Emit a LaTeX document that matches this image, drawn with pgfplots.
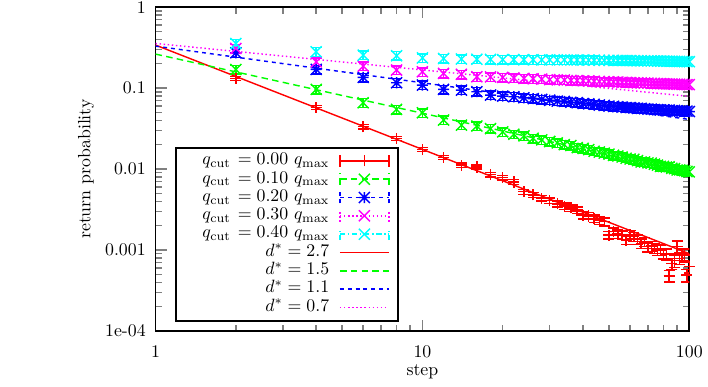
\documentclass[border=0pt]{standalone}
\usepackage{pgfplots}
\pgfplotsset{compat=1.18}
\definecolor{gpred}{rgb}{1,0,0}
\definecolor{gpgreen}{rgb}{0,1,0}
\definecolor{gpblue}{rgb}{0,0,1}
\definecolor{gpmagenta}{rgb}{1,0,1}
\definecolor{gpcyan}{rgb}{0,1,1}
\pgfdeclareplotmark{gpplus}{%
  \pgfpathmoveto{\pgfqpoint{-\pgfplotmarksize}{0pt}}%
  \pgfpathlineto{\pgfqpoint{\pgfplotmarksize}{0pt}}%
  \pgfpathmoveto{\pgfqpoint{0pt}{-\pgfplotmarksize}}%
  \pgfpathlineto{\pgfqpoint{0pt}{\pgfplotmarksize}}%
  \pgfusepathqstroke}
\pgfdeclareplotmark{gpx}{%
  \pgfpathmoveto{\pgfqpoint{-\pgfplotmarksize}{-\pgfplotmarksize}}%
  \pgfpathlineto{\pgfqpoint{\pgfplotmarksize}{\pgfplotmarksize}}%
  \pgfpathmoveto{\pgfqpoint{-\pgfplotmarksize}{\pgfplotmarksize}}%
  \pgfpathlineto{\pgfqpoint{\pgfplotmarksize}{-\pgfplotmarksize}}%
  \pgfusepathqstroke}
\pgfdeclareplotmark{gpstar}{%
  \pgfpathmoveto{\pgfqpoint{-\pgfplotmarksize}{0pt}}%
  \pgfpathlineto{\pgfqpoint{\pgfplotmarksize}{0pt}}%
  \pgfpathmoveto{\pgfqpoint{0pt}{-\pgfplotmarksize}}%
  \pgfpathlineto{\pgfqpoint{0pt}{\pgfplotmarksize}}%
  \pgfpathmoveto{\pgfqpoint{-\pgfplotmarksize}{-\pgfplotmarksize}}%
  \pgfpathlineto{\pgfqpoint{\pgfplotmarksize}{\pgfplotmarksize}}%
  \pgfpathmoveto{\pgfqpoint{-\pgfplotmarksize}{\pgfplotmarksize}}%
  \pgfpathlineto{\pgfqpoint{\pgfplotmarksize}{-\pgfplotmarksize}}%
  \pgfusepathqstroke}
% legend image: end caps + line + centre mark
\newcommand{\gpleg}[2]{%
  \draw[color=#1,#2,line width=0.8pt] (0pt,-3.3pt) -- (0pt,3.3pt) (27.5pt,-3.3pt) -- (27.5pt,3.3pt);
  \draw[color=#1,#2,line width=0.8pt] (0pt,0pt) -- (27.5pt,0pt);
  \draw[color=#1,solid,line width=0.8pt] plot coordinates {(13.75pt,0pt)};}
\newcommand{\lnleg}[2]{\draw[color=#1,#2,line width=0.8pt] (0pt,0pt) -- (27.5pt,0pt);}
\pgfplotsset{
  gpdata/.style={color=#1, only marks, mark size=3.1pt, mark options={solid,line width=0.8pt},
    error bars/y dir=both, error bars/y explicit,
    error bars/error bar style={solid,line width=0.8pt},
    error bars/error mark options={rotate=90,mark size=3.1pt,line width=0.8pt,solid}},
}
\begin{document}
\begin{tikzpicture}
\begin{axis}[
  at={(0pt,0pt)}, anchor=south west,
  scale only axis, width=300pt, height=182pt,
  xmode=log, ymode=log,
  xmin=1, xmax=100, ymin=1e-4, ymax=1,
  xtick={1,10,100}, xticklabels={1,10,100},
  ytick={0.0001,0.001,0.01,0.1,1}, yticklabels={1e-04,0.001,0.01,0.1,1},
  axis line style={line width=1.1pt},
  tick style={line width=0.8pt},
  major tick length=6.2pt, minor tick length=3.6pt,
  xticklabel style={yshift=-4.5pt},
  yticklabel style={xshift=-2pt},
  xlabel={step}, ylabel={return probability},
  every axis x label/.style={at={(axis description cs:0.5,-0.126)}, anchor=center},
  every axis y label/.style={at={(axis description cs:-0.13,0.5)}, anchor=center, rotate=90},
  legend plot pos=right,
  legend cell align=right,
  legend style={at={(0.0367,0.5687)}, anchor=north west, draw, line width=1pt,
     inner xsep=4.8pt, inner ysep=2.25pt, row sep=0pt,
     nodes={inner xsep=0pt, inner ysep=0.8pt, text height=6.5pt, text depth=2.2pt},
     /tikz/every odd column/.append style={column sep=5.6pt}},
]
% q_cut = 0.00
\addplot[gpdata=gpred, mark=gpplus, legend image code/.code={\gpleg{gpred}{solid}}] table[y error index=2] {
x y e
2 0.132 0.0079
4 0.0578 0.0035
6 0.0333 0.0020
8 0.0240 0.0014
10 0.0175 0.00105
12 0.0139 0.00083
14 0.0112 0.00067
16 0.0106 0.00064
18 0.00851 0.00051
20 0.00782 0.00051
22 0.00692 0.00048
24 0.00525 0.00037
26 0.00479 0.00036
28 0.00437 0.00035
30 0.00407 0.00033
32 0.00372 0.00032
34 0.00349 0.00030
36 0.00331 0.00030
38 0.00312 0.00028
40 0.00270 0.00027
42 0.00263 0.00026
44 0.00245 0.00025
46 0.00234 0.00026
48 0.00224 0.00025
50 0.00153 0.00017
52 0.00168 0.00018
54 0.00158 0.00019
56 0.00153 0.00018
58 0.00133 0.00016
60 0.00155 0.00019
62 0.00146 0.00019
64 0.00135 0.00018
66 0.00121 0.00016
68 0.00126 0.00016
70 0.00110 0.00015
72 0.00112 0.00016
74 0.00105 0.00015
76 0.00100 0.00015
78 0.00100 0.00015
80 0.00091 0.00014
82 0.00089 0.00014
84 0.00048 0.000077
86 0.00068 0.00011
88 0.00074 0.00013
90 0.00110 0.00019
92 0.00079 0.00013
94 0.00089 0.00015
96 0.00087 0.00016
98 0.00049 0.000088
100 0.00063 0.00011
};
\addlegendentry{\hspace*{10pt}$q_{\mathrm{cut}}\mkern2mu = 0.00\ q_{\mathrm{max}}$}
% q_cut = 0.10
\addplot[gpdata=gpgreen, mark=gpx, legend image code/.code={\gpleg{gpgreen}{dash pattern=on 3.7pt off 2.4pt}}] table[y error index=2] {
x y e
2 0.170 0.020
4 0.0964 0.0116
6 0.0659 0.0079
8 0.0546 0.0066
10 0.0495 0.0059
12 0.0403 0.0048
14 0.0349 0.0042
16 0.0340 0.0041
18 0.0316 0.0038
20 0.0288 0.0035
22 0.0269 0.0032
24 0.0257 0.0031
26 0.0240 0.0029
28 0.0229 0.0027
30 0.0219 0.0026
32 0.0211 0.0025
34 0.0200 0.0024
36 0.0195 0.0023
38 0.0184 0.0022
40 0.0180 0.0022
42 0.0174 0.0021
44 0.0166 0.0020
46 0.0162 0.0019
48 0.0157 0.0019
50 0.0153 0.0018
52 0.0148 0.0018
54 0.0145 0.0017
56 0.0141 0.0017
58 0.0136 0.0016
60 0.0133 0.0016
62 0.0132 0.0016
64 0.0127 0.0015
66 0.0122 0.0015
68 0.0122 0.0015
70 0.0119 0.0014
72 0.0118 0.0014
74 0.0115 0.0014
76 0.0112 0.0013
78 0.0108 0.0013
80 0.0108 0.0013
82 0.0106 0.0013
84 0.0107 0.0013
86 0.0102 0.0012
88 0.0101 0.0012
90 0.00975 0.0012
92 0.00977 0.0012
94 0.00966 0.0012
96 0.00955 0.0011
98 0.00933 0.0011
100 0.00923 0.0011
};
\addlegendentry{$q_{\mathrm{cut}}\mkern2mu = 0.10\ q_{\mathrm{max}}$}
% q_cut = 0.20
\addplot[gpdata=gpblue, mark=gpstar, legend image code/.code={\gpleg{gpblue}{dash pattern=on 2.2pt off 2.2pt}}] table[y error index=2] {
x y e
2 0.273 0.033
4 0.170 0.020
6 0.1355 0.016
8 0.1164 0.014
10 0.1089 0.013
12 0.0964 0.0116
14 0.0944 0.0113
16 0.0902 0.0108
18 0.0820 0.0098
20 0.0796 0.0096
22 0.0782 0.0094
24 0.0759 0.0091
26 0.0741 0.0089
28 0.0724 0.0087
30 0.0708 0.0085
32 0.0692 0.0083
34 0.0684 0.0082
36 0.0668 0.0080
38 0.0661 0.0079
40 0.0646 0.0078
42 0.0638 0.0077
44 0.0631 0.0076
46 0.0617 0.0074
48 0.0610 0.0073
50 0.0600 0.0072
52 0.0596 0.0072
54 0.0589 0.0071
56 0.0582 0.0070
58 0.0575 0.0069
60 0.0575 0.0069
62 0.0569 0.0068
64 0.0562 0.0067
66 0.0562 0.0067
68 0.0556 0.0067
70 0.0550 0.0066
72 0.0550 0.0066
74 0.0543 0.0065
76 0.0543 0.0065
78 0.0537 0.0064
80 0.0537 0.0064
82 0.0531 0.0064
84 0.0537 0.0064
86 0.0525 0.0063
88 0.0531 0.0064
90 0.0525 0.0063
92 0.0519 0.0062
94 0.0525 0.0063
96 0.0513 0.0062
98 0.0519 0.0062
100 0.0513 0.0062
};
\addlegendentry{$q_{\mathrm{cut}}\mkern2mu = 0.20\ q_{\mathrm{max}}$}
% q_cut = 0.30
\addplot[gpdata=gpmagenta, mark=gpx, legend image code/.code={\gpleg{gpmagenta}{dash pattern=on 0.8pt off 1.5pt}}] table[y error index=2] {
x y e
2 0.309 0.037
4 0.211 0.025
6 0.187 0.022
8 0.167 0.020
10 0.159 0.019
12 0.152 0.018
14 0.148 0.018
16 0.138 0.017
18 0.1374 0.016
20 0.1355 0.016
22 0.1334 0.016
24 0.1318 0.016
26 0.1303 0.016
28 0.1288 0.015
30 0.1274 0.015
32 0.1265 0.015
34 0.1259 0.015
36 0.1245 0.015
38 0.1239 0.015
40 0.1230 0.015
42 0.1225 0.015
44 0.1216 0.015
46 0.1208 0.014
48 0.1202 0.014
50 0.1197 0.014
52 0.1191 0.014
54 0.1186 0.014
56 0.1180 0.014
58 0.1175 0.014
60 0.1170 0.014
62 0.1166 0.014
64 0.1162 0.014
66 0.1158 0.014
68 0.1154 0.014
70 0.1150 0.014
72 0.1146 0.014
74 0.1142 0.014
76 0.1138 0.014
78 0.1134 0.014
80 0.1131 0.014
82 0.1128 0.014
84 0.1125 0.013
86 0.1122 0.013
88 0.1119 0.013
90 0.1116 0.013
92 0.1113 0.013
94 0.1110 0.013
96 0.1108 0.013
98 0.1106 0.013
100 0.1104 0.013
};
\addlegendentry{$q_{\mathrm{cut}}\mkern2mu = 0.30\ q_{\mathrm{max}}$}
% q_cut = 0.40
\addplot[gpdata=gpcyan, mark=gpx, legend image code/.code={\gpleg{gpcyan}{dash pattern=on 3pt off 1.5pt on 0.8pt off 1.5pt}}] table[y error index=2] {
x y e
2 0.356 0.043
4 0.281 0.034
6 0.255 0.031
8 0.251 0.030
10 0.236 0.028
12 0.232 0.028
14 0.229 0.027
16 0.227 0.027
18 0.226 0.027
20 0.225 0.027
22 0.2247 0.027
24 0.2243 0.027
26 0.2240 0.027
28 0.2237 0.027
30 0.2234 0.027
32 0.2230 0.027
34 0.2227 0.027
36 0.2224 0.027
38 0.2221 0.027
40 0.2217 0.027
42 0.2214 0.027
44 0.2211 0.027
46 0.2208 0.026
48 0.2204 0.026
50 0.2201 0.026
52 0.2198 0.026
54 0.2195 0.026
56 0.2191 0.026
58 0.2188 0.026
60 0.2185 0.026
62 0.2182 0.026
64 0.2178 0.026
66 0.2175 0.026
68 0.2172 0.026
70 0.2169 0.026
72 0.2165 0.026
74 0.2162 0.026
76 0.2159 0.026
78 0.2156 0.026
80 0.2152 0.026
82 0.2149 0.026
84 0.2146 0.026
86 0.2143 0.026
88 0.2139 0.026
90 0.2136 0.026
92 0.2133 0.026
94 0.2130 0.026
96 0.2126 0.026
98 0.2123 0.025
100 0.2120 0.025
};
\addlegendentry{$q_{\mathrm{cut}}\mkern2mu = 0.40\ q_{\mathrm{max}}$}
% fitted power laws
\addplot[color=gpred, line width=0.8pt, legend image code/.code={\lnleg{gpred}{solid}}] coordinates {(1,0.34) (100,0.00090)};
\addlegendentry{$d^* = 2.7$}
\addplot[color=gpgreen, line width=0.8pt, dash pattern=on 3.7pt off 2.4pt, legend image code/.code={\lnleg{gpgreen}{dash pattern=on 3.7pt off 2.4pt}}] coordinates {(1,0.263) (100,0.0091)};
\addlegendentry{$d^* = 1.5$}
\addplot[color=gpblue, line width=0.8pt, dash pattern=on 2.2pt off 2.2pt, legend image code/.code={\lnleg{gpblue}{dash pattern=on 2.2pt off 2.2pt}}] coordinates {(1,0.33) (100,0.041)};
\addlegendentry{$d^* = 1.1$}
\addplot[color=gpmagenta, line width=0.8pt, dash pattern=on 0.8pt off 1.5pt, legend image code/.code={\lnleg{gpmagenta}{dash pattern=on 0.8pt off 1.5pt}}] coordinates {(1,0.356) (100,0.079)};
\addlegendentry{$d^* = 0.7$}
\end{axis}
\pgfresetboundingbox
\useasboundingbox (-87.4pt,-31.4pt) rectangle (310.5pt,186pt);
\end{tikzpicture}
\end{document}
